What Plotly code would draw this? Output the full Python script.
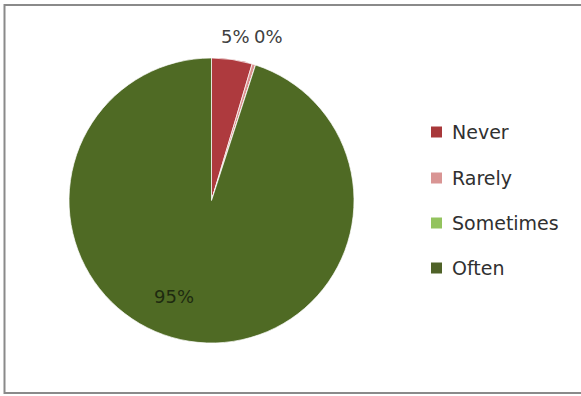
import math
import plotly.graph_objects as go

# Response shares (percent of respondents)
categories = ["Never", "Rarely", "Sometimes", "Often"]
shares = [4.6, 0.4, 0.0, 95.0]
slice_colors = ["#AE3A3E", "#D9908E", "#8DBE5A", "#4F6A24"]
legend_colors = ["#A8383A", "#D99594", "#93C35E", "#4F6228"]
label_modes = ["outside", "outside", "none", "inside"]

W, H = 581, 396
FONT = "DejaVu Sans"
LABEL_SIZE = 18

# Pie placement in pixels
cx, cy, r = 211.5, 200.5, 142.5


def text_width(s, size):
    # approximate advance widths of DejaVu Sans glyphs (em units)
    em = {"%": 0.95}
    return sum(em.get(ch, 0.636) for ch in s) * size


fig = go.Figure(
    go.Pie(
        labels=categories,
        values=shares,
        sort=False,
        direction="clockwise",
        rotation=0,
        marker=dict(colors=slice_colors, line=dict(color="rgba(255,255,255,0.7)", width=1)),
        textinfo="none",
        showlegend=False,
        hoverinfo="label+percent",
        domain=dict(
            x=[(cx - r) / W, (cx + r) / W],
            y=[1 - (cy + r) / H, 1 - (cy - r) / H],
        ),
    )
)

annotations = []

# Percentage labels placed from each slice's mid angle
total = sum(shares)
cum = 0.0
prev_right = None
prev_y = None
for name, v, mode in zip(categories, shares, label_modes):
    frac = v / total
    mid = (cum + frac / 2) * 2 * math.pi
    cum += frac
    if mode == "none":
        continue
    txt = f"{round(frac * 100):.0f}%"
    s, c = math.sin(mid), math.cos(mid)
    w_txt = text_width(txt, LABEL_SIZE)
    h_txt = LABEL_SIZE
    if mode == "outside":
        dist = r + 12 + w_txt / 2 * abs(s) + h_txt / 2 * abs(c)
        px = cx + dist * s
        py = cy - dist * c
        if prev_right is not None and px - w_txt / 2 < prev_right + 5:
            px = prev_right + 5 + w_txt / 2
            py = prev_y
        prev_right = px + w_txt / 2
        prev_y = py
        annotations.append(dict(
            x=px / W, y=1 - py / H, xref="paper", yref="paper",
            text=txt, showarrow=False, xanchor="center", yanchor="middle",
            font=dict(family=FONT, size=LABEL_SIZE, color="#404040"),
        ))
    else:
        dist = 0.68 * r
        px = cx + dist * s
        py = cy - dist * c
        annotations.append(dict(
            x=px / W, y=1 - py / H, xref="paper", yref="paper",
            text=txt, showarrow=False,
            xanchor="right" if s < 0 else "left", yanchor="middle",
            font=dict(family=FONT, size=LABEL_SIZE, color="#1e2a10"),
        ))

# Legend drawn as squares and labels, one row per category
legend_rows_y = [132, 178, 223, 268]
shapes = []
for name, col, py in zip(categories, legend_colors, legend_rows_y):
    shapes.append(dict(
        type="rect", xref="paper", yref="paper",
        x0=431 / W, x1=442 / W, y0=1 - (py + 5.5) / H, y1=1 - (py - 5.5) / H,
        fillcolor=col, line=dict(width=0),
    ))
    annotations.append(dict(
        x=450 / W, y=1 - py / H, xref="paper", yref="paper",
        text=name, showarrow=False, xanchor="left", yanchor="middle",
        font=dict(family=FONT, size=19, color="#303030"),
    ))

# Chart frame
shapes.append(dict(
    type="rect", xref="paper", yref="paper",
    x0=4.5 / W, x1=590 / W, y0=1 - 393 / H, y1=1 - 5 / H,
    line=dict(color="#8a8a8a", width=2), fillcolor="rgba(0,0,0,0)", layer="below",
))

fig.update_layout(
    width=W, height=H,
    margin=dict(l=0, r=0, t=0, b=0),
    paper_bgcolor="white",
    plot_bgcolor="white",
    shapes=shapes,
    annotations=annotations,
)

fig.write_html("out.html")
